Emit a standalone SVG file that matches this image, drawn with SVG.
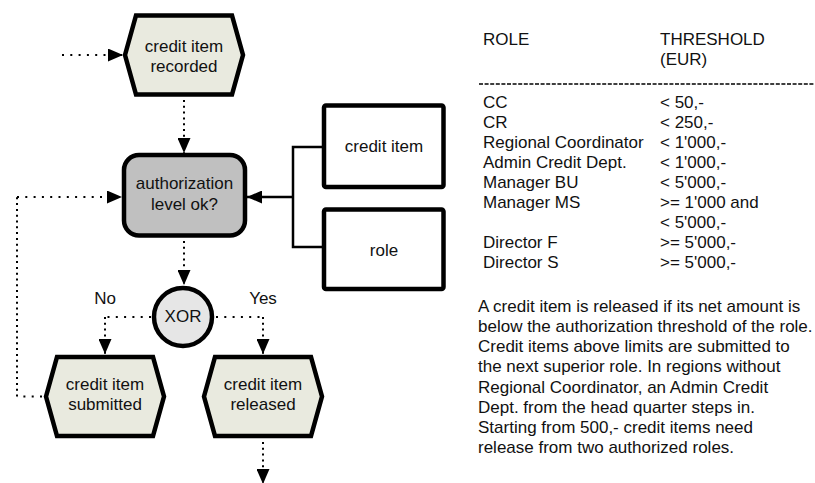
<svg xmlns="http://www.w3.org/2000/svg" width="815" height="483" viewBox="0 0 815 483">
  <style>
    text { font-family: "Liberation Sans", Arial, sans-serif; font-size: 17px; fill: #111; }
    .c { text-anchor: middle; }
    .event { fill: #e9eadf; stroke: #000; stroke-width: 4.5; stroke-linejoin: miter; }
    .func { fill: #c0c0c0; stroke: #000; stroke-width: 4.5; }
    .obj { fill: #fff; stroke: #000; stroke-width: 4.5; }
    .xor { fill: #e6e6e6; stroke: #000; stroke-width: 4.5; }
    .dh { fill: none; stroke: #000; stroke-width: 2; stroke-dasharray: 2 6.3; }
    .dv { fill: none; stroke: #000; stroke-width: 2; stroke-dasharray: 2 3.8; }
    .solid { fill: none; stroke: #000; stroke-width: 2.5; }
  </style>
  <defs>
    <marker id="arrow" viewBox="0 0 15 13" refX="15" refY="6.5" markerWidth="15" markerHeight="13" orient="auto" markerUnits="userSpaceOnUse">
      <path d="M0,0 L15,6.5 L0,13 Z" fill="#000"/>
    </marker>
    <path id="hex" d="M-59,0 L-48,-39.5 L48,-39.5 L59,0 L48,39.5 L-48,39.5 Z"/>
  </defs>

  <!-- connectors -->
  <g id="connectors">
    <path class="dh" d="M62,55 H123" marker-end="url(#arrow)"/>
    <path class="dv" d="M184,100 V153" marker-end="url(#arrow)"/>
    <path class="dv" d="M184,241 V285" marker-end="url(#arrow)"/>
    <path class="dh" d="M151,317 H105"/>
    <path class="dv" d="M105,317 V354" marker-end="url(#arrow)"/>
    <path class="dh" d="M216,317 H263"/>
    <path class="dv" d="M263,317 V354" marker-end="url(#arrow)"/>
    <path class="dv" d="M263,442 V484" marker-end="url(#arrow)"/>
    <path class="dh" d="M42,396.5 H17"/>
    <path class="dv" d="M17,396.5 V197"/>
    <path class="dh" d="M17,197 H122" marker-end="url(#arrow)"/>
    <path class="solid" d="M322,147 H293 V247 H322"/>
    <path class="solid" d="M293,197 H247" marker-end="url(#arrow)"/>
  </g>

  <g id="ev-recorded">
    <use href="#hex" class="event" transform="translate(184,55)"/>
    <text class="c" x="184" y="52">credit item</text>
    <text class="c" x="184" y="72">recorded</text>
  </g>

  <g id="fn-authorization">
    <rect class="func" x="124" y="155" width="121" height="80.5" rx="15" ry="15"/>
    <text class="c" x="184.5" y="189">authorization</text>
    <text class="c" x="184.5" y="210">level ok?</text>
  </g>

  <g id="obj-credit-item">
    <rect class="obj" x="324" y="105.5" width="119.5" height="81.5" rx="2"/>
    <text class="c" x="384" y="152">credit item</text>
  </g>

  <g id="obj-role">
    <rect class="obj" x="324" y="209.5" width="119.5" height="79.5" rx="2"/>
    <text class="c" x="384" y="256">role</text>
  </g>

  <g id="xor">
    <circle class="xor" cx="183" cy="317" r="29"/>
    <text class="c" x="183" y="322">XOR</text>
  </g>

  <g id="labels">
    <text class="c" x="105" y="304">No</text>
    <text class="c" x="263" y="304">Yes</text>
  </g>

  <g id="ev-submitted">
    <use href="#hex" class="event" transform="translate(105,396.5)"/>
    <text class="c" x="105" y="390">credit item</text>
    <text class="c" x="105" y="410">submitted</text>
  </g>

  <g id="ev-released">
    <use href="#hex" class="event" transform="translate(263,396.5)"/>
    <text class="c" x="263" y="390">credit item</text>
    <text class="c" x="263" y="410">released</text>
  </g>

  <!-- threshold table -->
  <g id="threshold-table">
    <text x="483" y="45">ROLE</text>
    <text x="660" y="45">THRESHOLD</text>
    <text x="660" y="65">(EUR)</text>
    <line x1="479" y1="84" x2="815" y2="84" stroke="#000" stroke-width="1.3" stroke-dasharray="4 1.6"/>
    <text x="483" y="108">CC</text>
    <text x="660" y="108">&lt; 50,-</text>
    <text x="483" y="128">CR</text>
    <text x="660" y="128">&lt; 250,-</text>
    <text x="483" y="148">Regional Coordinator</text>
    <text x="660" y="148">&lt; 1'000,-</text>
    <text x="483" y="168">Admin Credit Dept.</text>
    <text x="660" y="168">&lt; 1'000,-</text>
    <text x="483" y="188">Manager BU</text>
    <text x="660" y="188">&lt; 5'000,-</text>
    <text x="483" y="208">Manager MS</text>
    <text x="660" y="208">&gt;= 1'000 and</text>
    <text x="660" y="228">&lt; 5'000,-</text>
    <text x="483" y="248">Director F</text>
    <text x="660" y="248">&gt;= 5'000,-</text>
    <text x="483" y="268">Director S</text>
    <text x="660" y="268">&gt;= 5'000,-</text>
  </g>

  <!-- explanatory note -->
  <g id="note">
    <text x="478" y="312">A credit item is released if its net amount is</text>
    <text x="478" y="332">below the authorization threshold of the role.</text>
    <text x="478" y="352">Credit items above limits are submitted to</text>
    <text x="478" y="372">the next superior role. In regions without</text>
    <text x="478" y="393">Regional Coordinator, an Admin Credit</text>
    <text x="478" y="413">Dept. from the head quarter steps in.</text>
    <text x="478" y="433">Starting from 500,- credit items need</text>
    <text x="478" y="453">release from two authorized roles.</text>
  </g>
</svg>
